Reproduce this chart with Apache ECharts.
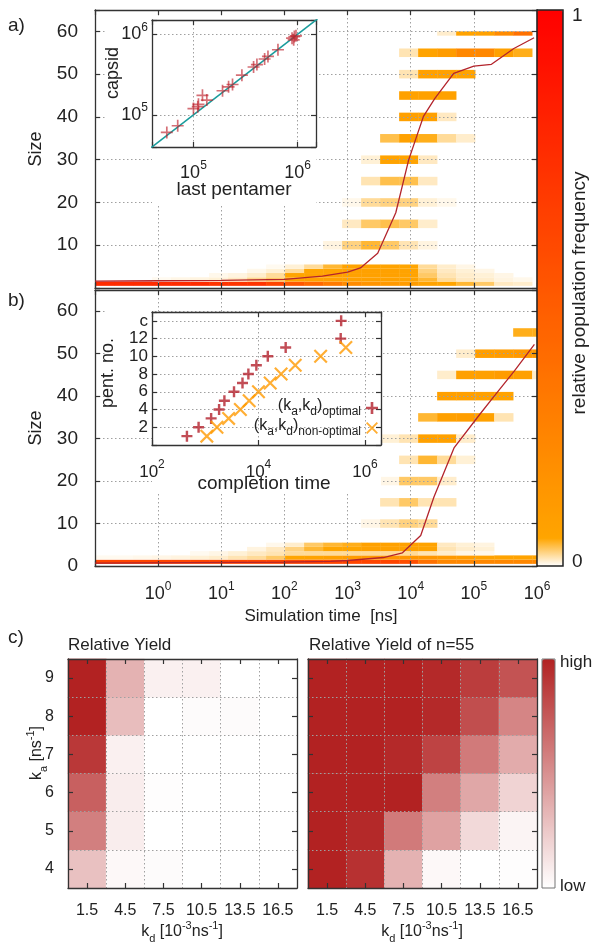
<!DOCTYPE html>
<html>
<head>
<meta charset="utf-8">
<script src="https://cdn.jsdelivr.net/npm/echarts@6.0.0/dist/echarts.min.js"></script>
<style>
html,body{margin:0;padding:0;background:#fff;overflow:hidden;}
#chart{width:600px;height:951px;}
</style>
</head>
<body>
<div id="chart"></div>
<script>
// ---------------- DATA ----------------
// time bins (factor-2 bins, ns)
const binEdges = [0.1,0.2,0.4,0.8,1.6,3.2,6.4,12.8,25.6,51.2,102.4,204.8,409.6,819.2,1638.4,3276.8,6553.6,13107.2,26214.4,52428.8,104857.6,209715.2,419430.4,838860.8,1677721.6];

// panel a: [size, first time bin, relative frequencies...]
const heatA = [
  [1, 0, [0.75,0.75,0.75,0.75,0.75,0.75,0.7,0.7,0.7,0.6,0.5,0.4,0.3,0.2,0.15,0.12,0.1,0.06,0.05,0.04,0.03,0.012,0.01]],
  [2, 3, [0.003,0.005,0.006,0.008,0.012,0.022,0.03,0.06,0.07,0.08,0.08,0.08,0.07,0.06,0.04,0.02,0.012,0.01,0.006,0.004]],
  [3, 6, [0.004,0.006,0.01,0.02,0.05,0.06,0.07,0.07,0.07,0.07,0.06,0.03,0.015,0.01,0.008,0.005]],
  [4, 8, [0.004,0.008,0.02,0.05,0.06,0.07,0.07,0.07,0.06,0.025,0.012,0.008,0.005]],
  [5, 9, [0.003,0.008,0.02,0.04,0.06,0.06,0.06,0.05,0.02,0.01,0.005]],
  [10, 12, [0.006,0.025,0.04,0.03,0.015,0.006]],
  [15, 13, [0.012,0.03,0.035,0.03,0.01]],
  [20, 13, [0.004,0.02,0.025,0.025,0.008,0.004]],
  [25, 14, [0.015,0.035,0.035,0.012]],
  [30, 14, [0.008,0.06,0.06,0.012]],
  [35, 15, [0.035,0.07,0.045,0.02,0.01]],
  [40, 16, [0.08,0.08,0.012]],
  [45, 16, [0.07,0.07,0.07]],
  [50, 16, [0.015,0.08,0.08,0.06]],
  [55, 16, [0.015,0.06,0.1,0.22,0.22,0.08,0.045]],
  [60, 18, [0.01,0.06,0.07,0.2,0.35]]
];

// panel b
const heatB = [
  [1, 0, [0.6,0.6,0.6,0.6,0.6,0.6,0.6,0.6,0.6,0.6,0.6,0.6,0.6,0.6,0.6,0.6,0.55,0.35,0.22,0.22,0.22,0.22,0.22,0.22]],
  [2, 0, [0.003,0.003,0.004,0.005,0.006,0.008,0.01,0.015,0.02,0.03,0.05,0.06,0.08,0.1,0.12,0.14,0.14,0.14,0.12,0.1,0.07,0.06,0.06,0.06]],
  [3, 5, [0.003,0.005,0.008,0.012,0.015,0.02,0.02,0.02,0.02,0.02,0.02,0.02,0.015,0.01,0.005,0.004]],
  [4, 8, [0.006,0.012,0.025,0.04,0.05,0.05,0.07,0.07,0.07,0.06,0.015,0.01,0.008]],
  [5, 9, [0.004,0.01,0.03,0.04,0.045,0.07,0.07,0.07,0.06,0.012,0.008,0.006]],
  [10, 14, [0.005,0.015,0.025,0.02]],
  [15, 15, [0.015,0.03,0.015,0.015]],
  [20, 15, [0.005,0.03,0.03,0.01]],
  [25, 16, [0.015,0.04,0.02,0.008]],
  [30, 15, [0.008,0.015,0.07,0.07,0.01]],
  [35, 17, [0.04,0.08,0.09,0.07,0.015]],
  [40, 18, [0.08,0.08,0.07,0.06]],
  [45, 18, [0.01,0.08,0.08,0.1,0.08,0.01]],
  [50, 19, [0.01,0.09,0.1,0.12,0.12]],
  [55, 22, [0.045,0.045]]
];

// mean size curves [time ns, size]
const meanSizeA = [[0.1,1.6],[1,1.7],[10,1.8],[100,2.0],[400,2.8],[1000,3.7],[1600,4.7],[3000,8.1],[5800,17.6],[9300,30],[12000,34.8],[16000,40.2],[24000,44.3],[48000,50.2],[100000,51.9],[190000,52.3],[430000,56],[900000,58.5]];
const meanSizeB = [[0.1,0.7],[100,0.9],[540,1.1],[1000,1.3],[3700,2.0],[7400,3.1],[14400,7.2],[23400,16.3],[48500,27.8],[121000,35.5],[210000,40],[436000,45.9],[910000,52.2]];

// inset a: last pentamer time vs capsid time
const lastPentamerTime = [55500,70600,100000,110000,122000,134300,111700,190100,217300,237100,291700,377600,406400,481900,518800,647100,883100,929000,963800,916200];
const capsidTime       = [60700,73300,119700,126500,174600,152800,135200,199100,222800,238200,310500,392600,419800,493200,530900,641200,893300,935400,955000,851100];
const diagonal = [[30000,30000],[2000000,2000000]];

// inset b: completion times of pentamer numbers (14 = "c", complete capsid)
const optTime = [453,750,1290,1820,2290,3470,5010,6460,9120,14960,32400,350000,357000];
const optPent = [1,2,3,4,5,6,7,8,9,10,11,12,14];
const nonOptTime = [1070,1660,2750,4570,6680,10000,16600,26600,49000,147000,437000];
const nonOptPent = [1,2,3,4,5,6,7,8,9,10,11];

// panel c
const kdLabels = ['1.5','4.5','7.5','10.5','13.5','16.5'];
const kaLabels = ['4','5','6','7','8','9'];
const yieldAll = [ // rows k_a = 4..9
  [0.28,0.03,0.02,0,0,0],
  [0.58,0.08,0,0,0,0],
  [0.72,0.08,0.01,0,0,0],
  [0.9,0.07,0,0,0,0],
  [1.0,0.3,0,0.02,0.02,0],
  [1.0,0.35,0.07,0.07,0,0]
];
const yield55 = [
  [1.0,0.93,0.35,0.03,0,0.01],
  [1.0,0.97,0.6,0.42,0.17,0.05],
  [1.0,1.0,1.0,0.58,0.4,0.2],
  [1.0,1.0,0.97,0.85,0.6,0.38],
  [1.0,1.0,1.0,0.97,0.8,0.55],
  [1.0,1.0,1.0,0.97,0.88,0.78]
];

// ---------------- STYLE / BUILD ----------------
const FONT = "'Liberation Sans', Arial, sans-serif";
const INK = '#222';
const orangeStops = ['#ffffff','#ffa500','#ff9c00','#ff9400','#ff8b00','#ff8200','#ff7a00','#ff7100','#ff6800','#ff6000','#ff5700','#ff4e00','#ff4500','#ff3d00','#ff3400','#ff2b00','#ff2300','#ff1a00','#ff1100','#ff0900','#ff0000'];

function cellData(rows, cap) {
  const out = [];
  rows.forEach(([size, k0, vals]) => {
    const lo = size <= 5 ? size - 0.5 : size - 1;
    const hi = size <= 5 ? size + 0.5 : Math.min(size + 1, 60);
    vals.forEach((v, i) => {
      const k = k0 + i;
      if (v > 0) out.push([binEdges[k], Math.min(binEdges[k + 1], cap), lo, hi, v]);
    });
  });
  return out;
}
function gridData(mat) {
  const out = [];
  mat.forEach((row, yi) => row.forEach((v, xi) => out.push([xi, yi, v])));
  return out;
}
function renderCell(params, api) {
  const a = api.coord([api.value(0), api.value(3)]);
  const b = api.coord([api.value(1), api.value(2)]);
  return {type:'rect', shape:{x:a[0], y:a[1], width:b[0]-a[0]+0.3, height:b[1]-a[1]}, style:{fill:api.visual('color')}};
}

const LINE = {show:true, onZero:false, lineStyle:{color:'#333', width:1.3}};
const TICK = {show:true, inside:true, length:5, lineStyle:{color:'#333', width:1.2}};
const DOT = {show:true, lineStyle:{color:'#a0a0a0', width:1, type:[1.5,2.5]}};
function axis(o) {
  return Object.assign({axisLine:LINE, axisTick:TICK, splitLine:{show:false}, axisLabel:{show:false}, z:3}, o);
}
function expRich(fb, fs) {
  return {
    b:{fontSize:fb, lineHeight:26, verticalAlign:'middle', fontFamily:FONT, color:INK},
    s:{fontSize:fs, lineHeight:12, verticalAlign:'top', fontFamily:FONT, color:INK}
  };
}
function expFmt(v) {
  const e = Math.log10(v);
  if (Math.abs(e - Math.round(e)) > 0.01 || e < -0.5) return '';
  return '{b|10}{s|' + Math.round(e) + '}';
}

const plusPath = 'path://M4.3,0H5.7V10H4.3Z M0,4.3H10V5.7H0Z';
const plusBold = 'path://M3.9,0H6.1V10H3.9Z M0,3.9H10V6.1H0Z';
const crossPath = 'path://M0,1.1L1.1,0L10,8.9L8.9,10Z M8.9,0L10,1.1L1.1,10L0,8.9Z';

const kRich = {
  n:{fontSize:16, lineHeight:24, verticalAlign:'middle', fontFamily:FONT, fill:INK, color:INK},
  s:{fontSize:11, lineHeight:16, verticalAlign:'bottom', fontFamily:FONT, fill:INK, color:INK},
  p:{fontSize:11, lineHeight:14, verticalAlign:'top', fontFamily:FONT, fill:INK, color:INK}
};
function text(x, y, str, fs, extra) {
  return Object.assign({type:'text', x:x, y:y, z:10, style:{text:str, fontFamily:FONT, fontSize:fs, fill:INK, align:'center', verticalAlign:'middle'}}, extra || {});
}
function rtext(x, y, str, fs, st, extra) {
  const el = text(x, y, str, fs, extra);
  Object.assign(el.style, st || {});
  return el;
}
function whiteRect(x, y, w, h) {
  return {type:'rect', z:5, shape:{x:x, y:y, width:w, height:h}, style:{fill:'#fff'}, silent:true};
}

const legRich = {
  n:{fontSize:16, lineHeight:20, verticalAlign:'top', fontFamily:FONT, color:INK},
  s:{fontSize:12, lineHeight:12, verticalAlign:'bottom', fontFamily:FONT, color:INK}
};
const catLabel = {show:true, interval:0, margin:15, fontSize:16, color:INK};

const option = {
  animation:false,
  backgroundColor:'#fff',
  textStyle:{fontFamily:FONT, color:INK},
  grid:[
    {left:95, top:10, width:442, height:278, outerBoundsMode:'none'},
    {left:95, top:290, width:442, height:276, outerBoundsMode:'none'},
    {left:152, top:20, width:164, height:127, outerBoundsMode:'none'},
    {left:152, top:312, width:229, height:133, outerBoundsMode:'none'},
    {left:68, top:659, width:229, height:229, outerBoundsMode:'none'},
    {left:308, top:659, width:229, height:229, outerBoundsMode:'none'}
  ],
  xAxis:[
    axis({type:'log', logBase:10, gridIndex:0, position:'bottom', min:0.1, max:1e6, splitLine:DOT}),
    axis({type:'log', logBase:10, gridIndex:0, position:'top', min:0.1, max:1e6}),
    axis({type:'log', logBase:10, gridIndex:1, position:'bottom', min:0.1, max:1e6, splitLine:DOT,
      axisLabel:{show:true, margin:15, formatter:expFmt, rich:expRich(18,12)}}),
    axis({type:'log', logBase:10, gridIndex:1, position:'top', min:0.1, max:1e6}),
    axis({type:'log', logBase:10, gridIndex:2, position:'bottom', min:40000, max:1.5e6, splitLine:DOT, z:6,
      axisLabel:{show:true, margin:13, formatter:expFmt, rich:expRich(18,12)}}),
    axis({type:'log', logBase:10, gridIndex:2, position:'top', min:40000, max:1.5e6, z:6}),
    axis({type:'log', logBase:100, gridIndex:3, position:'bottom', min:100, max:2e6, splitLine:DOT, z:6,
      axisLabel:{show:true, margin:14, formatter:expFmt, rich:expRich(17,12)}}),
    axis({type:'log', logBase:100, gridIndex:3, position:'top', min:100, max:2e6, z:6}),
    axis({type:'category', gridIndex:4, position:'bottom', data:kdLabels, boundaryGap:true,
      axisTick:Object.assign({alignWithLabel:true, interval:0}, TICK), splitLine:Object.assign({interval:0}, DOT),
      axisLabel:catLabel}),
    axis({type:'category', gridIndex:4, position:'top', data:kdLabels, boundaryGap:true,
      axisTick:Object.assign({alignWithLabel:true, interval:0}, TICK)}),
    axis({type:'category', gridIndex:5, position:'bottom', data:kdLabels, boundaryGap:true,
      axisTick:Object.assign({alignWithLabel:true, interval:0}, TICK), splitLine:Object.assign({interval:0}, DOT),
      axisLabel:catLabel}),
    axis({type:'category', gridIndex:5, position:'top', data:kdLabels, boundaryGap:true,
      axisTick:Object.assign({alignWithLabel:true, interval:0}, TICK)})
  ],
  yAxis:[
    axis({type:'value', gridIndex:0, position:'left', min:0, max:65, interval:10, splitLine:DOT,
      axisLabel:{show:true, margin:17, fontSize:19, color:INK, formatter:v => (v >= 10 && v <= 60) ? String(v) : ''}}),
    axis({type:'value', gridIndex:0, position:'right', min:0, max:65, interval:10}),
    axis({type:'value', gridIndex:1, position:'left', min:0, max:65, interval:10, splitLine:DOT,
      axisLabel:{show:true, margin:17, fontSize:19, color:INK, formatter:v => (v <= 60) ? String(v) : ''}}),
    axis({type:'value', gridIndex:1, position:'right', min:0, max:65, interval:10}),
    axis({type:'log', logBase:10, gridIndex:2, position:'left', min:40000, max:1.5e6, splitLine:DOT, z:6,
      axisLabel:{show:true, margin:4, formatter:expFmt, rich:expRich(18,12)}}),
    axis({type:'log', logBase:10, gridIndex:2, position:'right', min:40000, max:1.5e6, z:6}),
    axis({type:'value', gridIndex:3, position:'left', min:0, max:15, interval:2, splitLine:DOT, z:6,
      axisLabel:{show:true, margin:4, fontSize:17, color:INK, formatter:v => v === 14 ? 'c' : ((v > 0 && v <= 12) ? String(v) : '')}}),
    axis({type:'value', gridIndex:3, position:'right', min:0, max:15, interval:2, z:6}),
    axis({type:'category', gridIndex:4, position:'left', data:kaLabels, boundaryGap:true,
      axisTick:Object.assign({alignWithLabel:true, interval:0}, TICK), splitLine:Object.assign({interval:0}, DOT),
      axisLabel:{show:true, interval:0, margin:14, fontSize:16, color:INK}}),
    axis({type:'category', gridIndex:4, position:'right', data:kaLabels, boundaryGap:true,
      axisTick:Object.assign({alignWithLabel:true, interval:0}, TICK)}),
    axis({type:'category', gridIndex:5, position:'left', data:kaLabels, boundaryGap:true,
      axisTick:Object.assign({alignWithLabel:true, interval:0}, TICK), splitLine:Object.assign({interval:0}, DOT)}),
    axis({type:'category', gridIndex:5, position:'right', data:kaLabels, boundaryGap:true,
      axisTick:Object.assign({alignWithLabel:true, interval:0}, TICK)})
  ],
  visualMap:[
    {type:'continuous', min:0, max:1, dimension:4, seriesIndex:[0,1], inRange:{color:orangeStops},
     left:537, top:10, itemWidth:26, itemHeight:556, padding:0, calculable:false, hoverLink:false, text:null, show:true},
    {type:'continuous', min:0, max:1, dimension:2, seriesIndex:[8,9], inRange:{color:['#ffffff','#b22222']},
     left:542, top:659, itemWidth:13, itemHeight:229, padding:0, calculable:false, hoverLink:false, text:null, show:true}
  ],
  legend:{
    orient:'vertical', right:222, top:398, align:'right', itemGap:0, itemWidth:12, itemHeight:12, padding:0, z:8,
    selectedMode:false, data:['optimal','non-optimal'],
    formatter:name => name === 'optimal'
      ? '{n|(k}{s|a}{n|,k}{s|d}{n|)}{s|optimal}'
      : '{n|(k}{s|a}{n|,k}{s|d}{n|)}{s|non-optimal}',
    textStyle:{rich:legRich}
  },
  series:[
    {type:'custom', name:'heatA', xAxisIndex:0, yAxisIndex:0, renderItem:renderCell, encode:{x:[0,1], y:[2,3]}, data:cellData(heatA, 1e6), z:1, silent:true},
    {type:'custom', name:'heatB', xAxisIndex:2, yAxisIndex:2, renderItem:renderCell, encode:{x:[0,1], y:[2,3]}, data:cellData(heatB, 1e6), z:1, silent:true},
    {type:'line', name:'meanA', xAxisIndex:0, yAxisIndex:0, data:meanSizeA, symbol:'none', lineStyle:{color:'#b3242c', width:1.3}, z:4},
    {type:'line', name:'meanB', xAxisIndex:2, yAxisIndex:2, data:meanSizeB, symbol:'none', lineStyle:{color:'#b3242c', width:1.3}, z:4},
    {type:'line', name:'diag', xAxisIndex:4, yAxisIndex:4, data:diagonal, symbol:'none', lineStyle:{color:'#1a9c9c', width:1.5}, z:7, clip:true},
    {type:'scatter', name:'capsid', xAxisIndex:4, yAxisIndex:4, data:lastPentamerTime.map((t, i) => [t, capsidTime[i]]),
      symbol:plusPath, symbolSize:12, itemStyle:{color:'rgba(190,30,40,0.8)'}, z:8},
    {type:'scatter', name:'optimal', xAxisIndex:6, yAxisIndex:6, data:optTime.map((t, i) => [t, optPent[i]]),
      symbol:plusBold, symbolSize:11, itemStyle:{color:'#b3202c'}, z:8},
    {type:'scatter', name:'non-optimal', xAxisIndex:6, yAxisIndex:6, data:nonOptTime.map((t, i) => [t, nonOptPent[i]]),
      symbol:crossPath, symbolSize:14, itemStyle:{color:'#ff9a00'}, z:8},
    {type:'heatmap', name:'yieldAll', xAxisIndex:8, yAxisIndex:8, data:gridData(yieldAll), z:1, silent:true},
    {type:'heatmap', name:'yield55', xAxisIndex:10, yAxisIndex:10, data:gridData(yield55), z:1, silent:true}
  ],
  graphic:{elements:[
    whiteRect(106, 16, 210, 131),
    whiteRect(152, 147, 164, 58),
    whiteRect(106, 306, 46, 126),
    whiteRect(152, 312, 229, 133),
    whiteRect(152, 445, 229, 47),
    {type:'rect', z:10, silent:true, shape:{x:537, y:10, width:26, height:556}, style:{fill:'none', stroke:'#222', lineWidth:1.5}},
    {type:'rect', z:10, silent:true, shape:{x:542, y:659, width:13, height:229}, style:{fill:'none', stroke:'#777', lineWidth:1}},
    rtext(8, 26, 'a)', 19, {align:'left'}),
    rtext(8, 301, 'b)', 19, {align:'left'}),
    rtext(8, 638, 'c)', 19, {align:'left'}),
    text(36, 149, 'Size', 18, {rotation:Math.PI/2}),
    text(36, 428, 'Size', 18, {rotation:Math.PI/2}),
    text(321, 616, 'Simulation time  [ns]', 17),
    text(113, 73, 'capsid', 18, {rotation:Math.PI/2}),
    text(234, 190, 'last pentamer', 19),
    text(108, 373, 'pent. no.', 18, {rotation:Math.PI/2}),
    text(264, 484, 'completion time', 19),
    text(580, 293, 'relative population frequency', 19, {rotation:Math.PI/2}),
    rtext(572, 16, '1', 19, {align:'left'}),
    rtext(572, 562, '0', 19, {align:'left'}),
    rtext(68, 645, 'Relative Yield', 17, {align:'left'}),
    rtext(309, 645, 'Relative Yield of n=55', 17, {align:'left'}),
    rtext(560, 662, 'high', 17, {align:'left'}),
    rtext(560, 886, 'low', 17, {align:'left'}),
    rtext(37, 753, '{n|k}{s|a}{n| [ns}{p|-1}{n|]}', 16, {rich:kRich}, {rotation:Math.PI/2}),
    rtext(182, 932, '{n|k}{s|d}{n| [10}{p|-3}{n|ns}{p|-1}{n|]}', 16, {rich:kRich}),
    rtext(422, 932, '{n|k}{s|d}{n| [10}{p|-3}{n|ns}{p|-1}{n|]}', 16, {rich:kRich})
  ]}
};

const chart = echarts.init(document.getElementById('chart'), null, {renderer:'canvas'});
chart.setOption(option);
</script>
</body>
</html>
